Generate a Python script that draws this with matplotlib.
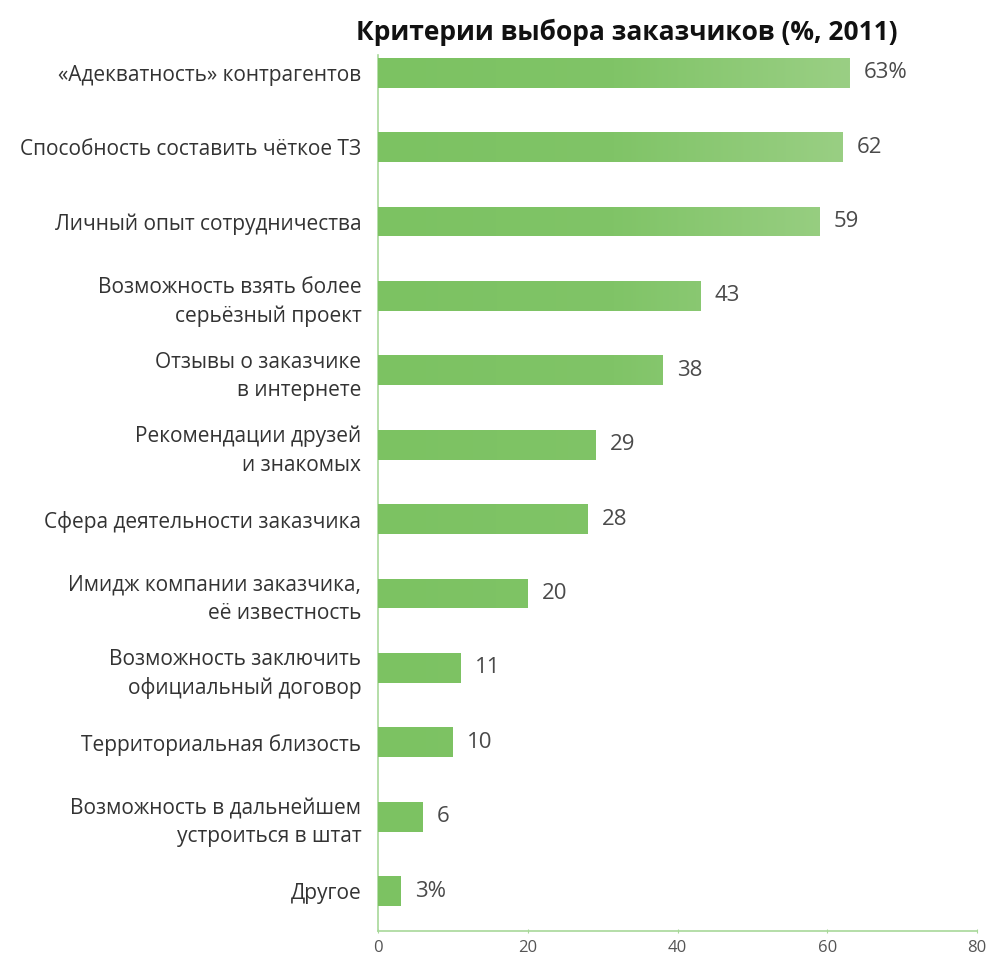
import numpy as np
import matplotlib.pyplot as plt
from matplotlib.colors import LinearSegmentedColormap

plt.rcParams['font.family'] = ['Open Sans', 'DejaVu Sans']

labels = ['«Адекватность» контрагентов',
          'Способность составить чёткое ТЗ',
          'Личный опыт сотрудничества',
          'Возможность взять более\nсерьёзный проект',
          'Отзывы о заказчике\nв интернете',
          'Рекомендации друзей\nи знакомых',
          'Сфера деятельности заказчика',
          'Имидж компании заказчика,\nеё известность',
          'Возможность заключить\nофициальный договор',
          'Территориальная близость',
          'Возможность в дальнейшем\nустроиться в штат',
          'Другое']
values = [63, 62, 59, 43, 38, 29, 28, 20, 11, 10, 6, 3]
value_text = ['63%', '62', '59', '43', '38', '29', '28', '20', '11', '10', '6', '3%']
xticks = [0, 20, 40, 60, 80]

fig = plt.figure(figsize=(9.87, 9.61), dpi=100)
ax = fig.add_axes([0.383, 0.031, 0.607, 0.912])

y = np.arange(len(values))
bars = ax.barh(y, values, height=0.4, color='#80c466', zorder=2)

# gradient tied to the x scale, so long bars get lighter at the right end
grad = np.linspace(0, 1, 256).reshape(1, -1)
cmap = LinearSegmentedColormap.from_list('g', ['#7cc262', '#80c467', '#9acf84'])
for b in bars:
    y0, h = b.get_y(), b.get_height()
    im = ax.imshow(grad, extent=[0, max(values), y0 + h, y0], aspect='auto',
                   cmap=cmap, zorder=3)
    im.set_clip_path(b)

for yi, v, t in zip(y, values, value_text):
    ax.text(v + 1.9, yi, t, va='center', ha='left', fontsize=16, color='#4a4a4a')

ax.set_xlim(0, 80)
ax.set_ylim(11.54, -0.24)
ax.set_yticks(y)
ax.set_yticklabels(labels, fontsize=15, color='#333333', linespacing=1.45)
ax.set_xticks(xticks)
ax.set_xticklabels([str(t) for t in xticks], fontsize=12, color='#555555')

for s in ['top', 'right']:
    ax.spines[s].set_visible(False)
for s in ['left', 'bottom']:
    ax.spines[s].set_color('#a8d89a')
    ax.spines[s].set_linewidth(1.2)
ax.tick_params(axis='y', length=0, pad=12)
ax.tick_params(axis='x', length=3, direction='inout', color='#a8d89a', pad=5)

fig.text(0.635, 0.966, 'Критерии выбора заказчиков (%, 2011)', ha='center', va='center',
         fontsize=19, fontweight='bold', color='#111111')

fig.savefig('out.png', dpi=100)
